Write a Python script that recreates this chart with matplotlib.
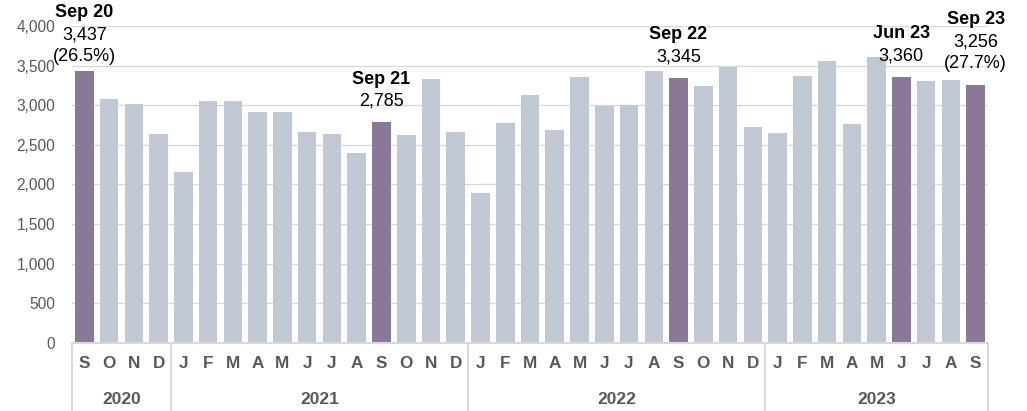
import matplotlib
matplotlib.use("Agg")
import matplotlib.pyplot as plt
import matplotlib.transforms as mtransforms

months = ["S", "O", "N", "D",
          "J", "F", "M", "A", "M", "J", "J", "A", "S", "O", "N", "D",
          "J", "F", "M", "A", "M", "J", "J", "A", "S", "O", "N", "D",
          "J", "F", "M", "A", "M", "J", "J", "A", "S"]
values = [3437, 3085, 3020, 2640,
          2160, 3055, 3055, 2920, 2920, 2665, 2640, 2400, 2785, 2630, 3325, 2665,
          1890, 2770, 3130, 2685, 3360, 2995, 3005, 3435, 3345, 3245, 3485, 2730,
          2655, 3370, 3562, 2765, 3612, 3360, 3310, 3318, 3256]
years = ["2020", "2021", "2022", "2023"]
year_counts = [4, 12, 12, 9]
highlight_idx = [0, 12, 24, 33, 36]
highlight_titles = ["Sep 20", "Sep 21", "Sep 22", "Jun 23", "Sep 23"]
highlight_values = ["3,437", "2,785", "3,345", "3,360", "3,256"]
highlight_pcts = ["(26.5%)", None, None, None, "(27.7%)"]

plt.rcParams['font.family'] = ['Liberation Sans', 'DejaVu Sans']

W, H = 1027, 411
fig = plt.figure(figsize=(W / 100, H / 100), dpi=100)
ax = fig.add_axes([72 / W, 1 - 343 / H, (988 - 72) / W, (343 - 26) / H])

base_col = "#c0c8d3"
hi_col = "#8a7898"
colors = [hi_col if i in highlight_idx else base_col for i in range(len(values))]
x = list(range(len(values)))
ax.bar(x, values, width=0.75, color=colors, zorder=2)

ax.set_xlim(-0.5, len(values) - 0.5)
ax.set_ylim(0, 4000)
ax.set_yticks(range(0, 4001, 500))
ax.set_yticklabels([f"{v:,}" for v in range(0, 4001, 500)], color="#595959", fontsize=11.2)
ax.yaxis.grid(True, color="#d9d9d9", lw=1, zorder=0)
ax.set_axisbelow(True)
ax.tick_params(axis="y", length=0, pad=12)
for s in ["top", "right", "left"]:
    ax.spines[s].set_visible(False)
ax.spines["bottom"].set_color("#d9d9d9")
ax.spines["bottom"].set_linewidth(1.5)

ax.set_xticks(x)
ax.set_xticklabels(months, fontweight="bold", color="#595959", fontsize=12.3)
ax.tick_params(axis="x", length=0, pad=9)

# year groups
trans = mtransforms.blended_transform_factory(ax.transData, ax.transAxes)
start = 0
bounds = [-0.5]
for yr, n in zip(years, year_counts):
    center = start + (n - 1) / 2
    ax.text(center, -0.1776, yr, transform=trans, ha="center", va="center",
            fontweight="bold", color="#595959", fontsize=12.5)
    start += n
    bounds.append(start - 0.5)
for b in bounds:
    ax.plot([b, b], [0, -0.22], transform=trans, color="#d9d9d9", lw=1.5,
            clip_on=False, zorder=1)

# annotations
px = 0.72  # points per pixel at dpi 100
for k, (i, t, v, p) in enumerate(zip(highlight_idx, highlight_titles, highlight_values, highlight_pcts)):
    lines = [(t, "bold")]
    lines.append((v, "normal"))
    if p:
        lines.append((p, "normal"))
    base = 14 if i == 0 else 21
    n = len(lines)
    for j, (txt, fw) in enumerate(lines):
        off = base + (n - 1 - j) * 22
        ax.annotate(txt, xy=(i, values[i]), xytext=(0, off * px), textcoords="offset points",
                    ha="center", va="center", fontsize=13, fontweight=fw, color="#000000",
                    annotation_clip=False)

fig.savefig("out.png", dpi=100)
